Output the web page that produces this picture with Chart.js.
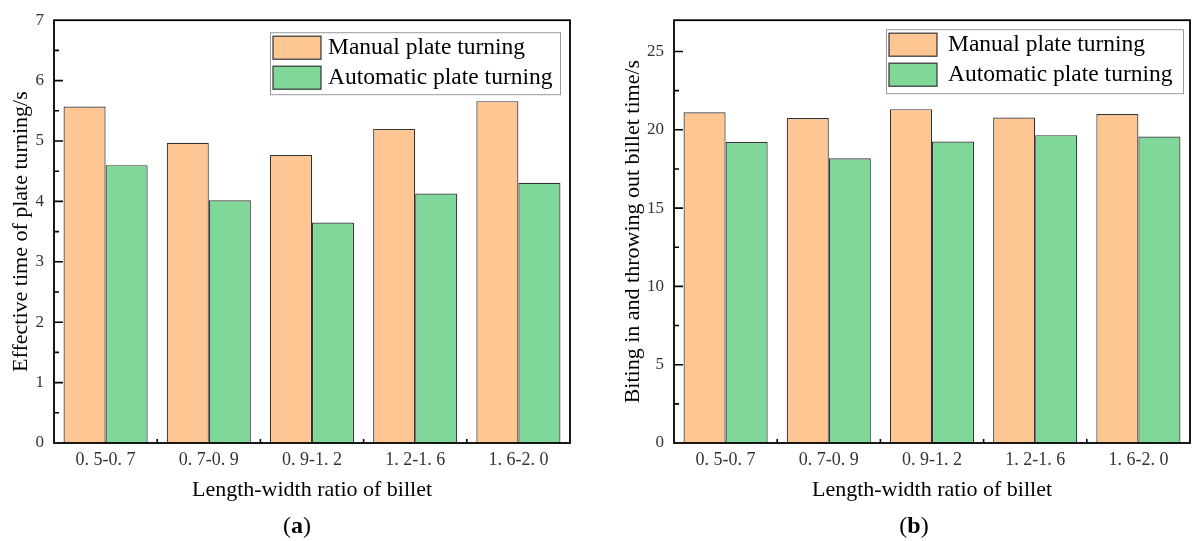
<!DOCTYPE html>
<html>
<head>
<meta charset="utf-8">
<script src="https://cdn.jsdelivr.net/npm/chart.js@4.4.1/dist/chart.umd.min.js"></script>
<style>
  body { margin: 0; background: #fff; width: 1195px; height: 541px; position: relative; overflow: hidden; }
  canvas { position: absolute; top: 0; }
  #chart_a { left: 0; }
  #chart_b { left: 600px; }
  .caption { position: absolute; top: 512px; transform: translateX(-50%);
             font-family: "Liberation Serif", "Times New Roman", serif; font-size: 24px; color: #000; }
</style>
</head>
<body>
<canvas id="chart_a" width="600" height="541"></canvas>
<canvas id="chart_b" width="595" height="541"></canvas>
<div class="caption" style="left:297px">(<b>a</b>)</div>
<div class="caption" style="left:914px">(<b>b</b>)</div>
<script>
//
// data
//
var ratio_labels = ['0. 5-0. 7', '0. 7-0. 9', '0. 9-1. 2', '1. 2-1. 6', '1. 6-2. 0'];
var series_names = ['Manual plate turning', 'Automatic plate turning'];

// (a) effective time of plate turning, s
var a_manual = [5.57, 4.97, 4.77, 5.20, 5.66];
var a_auto = [4.60, 4.02, 3.65, 4.13, 4.31];

// (b) biting in and throwing out billet time, s
var b_manual = [21.12, 20.75, 21.32, 20.79, 21.01];
var b_auto = [19.22, 18.18, 19.25, 19.66, 19.57];

var a_y_title = 'Effective time of plate turning/s';
var b_y_title = 'Biting in and throwing out billet time/s';
var x_title = 'Length-width ratio of billet';

var col_manual = '#FEC692';
var col_auto = '#7FD899';
var serif = '"Liberation Serif", "Times New Roman", serif';

//
// frame round the plot + inward ticks (origin style)
//
var frame_plugin = {
  id : 'frame',
  afterDraw : function(chart) {
    var o = chart.options.plugins.frame;
    var ctx = chart.ctx;
    var a = chart.chartArea;
    var y = chart.scales.y;
    var x = chart.scales.x;
    ctx.save();
    ctx.strokeStyle = '#000';
    ctx.lineWidth = 1.6;
    ctx.beginPath();
    // y ticks, major and minor
    for (var v = o.minor; v < y.max; v += o.minor) {
      var py = y.getPixelForValue(v);
      var major = Math.abs(v / o.major - Math.round(v / o.major)) < 1e-6;
      ctx.moveTo(a.left, py);
      ctx.lineTo(a.left + (major ? 9 : 5), py);
    }
    // x ticks between the groups
    for (var i = 1; i < chart.data.labels.length; i++) {
      var px = (x.getPixelForValue(i - 1) + x.getPixelForValue(i)) / 2;
      ctx.moveTo(px, a.bottom);
      ctx.lineTo(px, a.bottom - 4);
    }
    ctx.stroke();
    ctx.lineWidth = 1.8;
    ctx.strokeRect(a.left, a.top, a.right - a.left, a.bottom - a.top);
    ctx.restore();
  }
};

//
// legend box inside the plot
//
var box_legend_plugin = {
  id : 'boxLegend',
  afterDraw : function(chart) {
    var o = chart.options.plugins.boxLegend;
    var ctx = chart.ctx;
    var a = chart.chartArea;
    var bx = a.left + o.dx;
    var by = a.top + o.dy;
    ctx.save();
    ctx.fillStyle = '#fff';
    ctx.fillRect(bx, by, o.w, o.h);
    ctx.strokeStyle = '#999';
    ctx.lineWidth = 1;
    ctx.strokeRect(bx + 0.5, by + 0.5, o.w, o.h);
    ctx.font = '23.5px ' + serif;
    ctx.textBaseline = 'middle';
    chart.data.datasets.forEach(function(ds, i) {
      var sy = by + 4 + i * 30;
      ctx.fillStyle = ds.backgroundColor;
      ctx.fillRect(bx + 3, sy, 48, 23);
      ctx.strokeStyle = '#333';
      ctx.lineWidth = 1.2;
      ctx.strokeRect(bx + 3, sy, 48, 23);
      ctx.fillStyle = '#000';
      ctx.fillText(ds.label, bx + o.text_dx, sy + 12);
    });
    ctx.restore();
  }
};

function make_chart(canvas_id, manual, auto, y_title, y_max, y_major, y_minor,
                    y_width, y_title_pad, pad_top, pad_right, legend_pos) {
  var ctx = document.getElementById(canvas_id).getContext('2d');
  return new Chart(ctx, {
    type : 'bar',
    data : {
      labels : ratio_labels,
      datasets : [ {
        label : series_names[0],
        data : manual,
        backgroundColor : col_manual,
        borderColor : '#333',
        borderWidth : 1.2,
        categoryPercentage : 0.815,
        barPercentage : 1.0
      }, {
        label : series_names[1],
        data : auto,
        backgroundColor : col_auto,
        borderColor : '#333',
        borderWidth : 1.2,
        categoryPercentage : 0.815,
        barPercentage : 1.0
      } ]
    },
    options : {
      responsive : false,
      animation : false,
      devicePixelRatio : 1,
      layout : {padding : {top : pad_top, right : pad_right, left : 0, bottom : 31}},
      plugins : {
        legend : {display : false},
        tooltip : {enabled : false},
        frame : {major : y_major, minor : y_minor},
        boxLegend : legend_pos
      },
      scales : {
        x : {
          grid : {display : false, drawTicks : false},
          border : {display : false},
          ticks : {color : '#333', padding : 6, font : {family : serif, size : 18}},
          title : {
            display : true,
            text : x_title,
            color : '#000',
            font : {family : serif, size : 22},
            padding : {top : 0, bottom : 7}
          },
          afterFit : function(scale) { scale.height = 67; }
        },
        y : {
          min : 0,
          max : y_max,
          grid : {display : false, drawTicks : false},
          border : {display : false},
          ticks : {
            stepSize : y_major,
            color : '#333',
            padding : 10,
            font : {family : serif, size : 17}
          },
          afterBuildTicks : function(scale) {
            scale.ticks = scale.ticks.filter(function(t) { return t.value % y_major === 0; });
          },
          title : {
            display : true,
            text : y_title,
            color : '#000',
            font : {family : serif, size : 22},
            padding : {top : y_title_pad, bottom : 0}
          },
          afterFit : function(scale) { scale.width = y_width; }
        }
      }
    },
    plugins : [ frame_plugin, box_legend_plugin ]
  });
}

var chart_a = make_chart('chart_a', a_manual, a_auto, a_y_title, 7, 1, 0.5,
                         54, 8, 19, 30, {dx : 216, dy : 12, w : 290, h : 62, text_dx : 58});
var chart_b = make_chart('chart_b', b_manual, b_auto, b_y_title, 27, 5, 2.5,
                         74, 20, 16, 5, {dx : 212, dy : 9, w : 297, h : 64, text_dx : 62});
</script>
</body>
</html>
